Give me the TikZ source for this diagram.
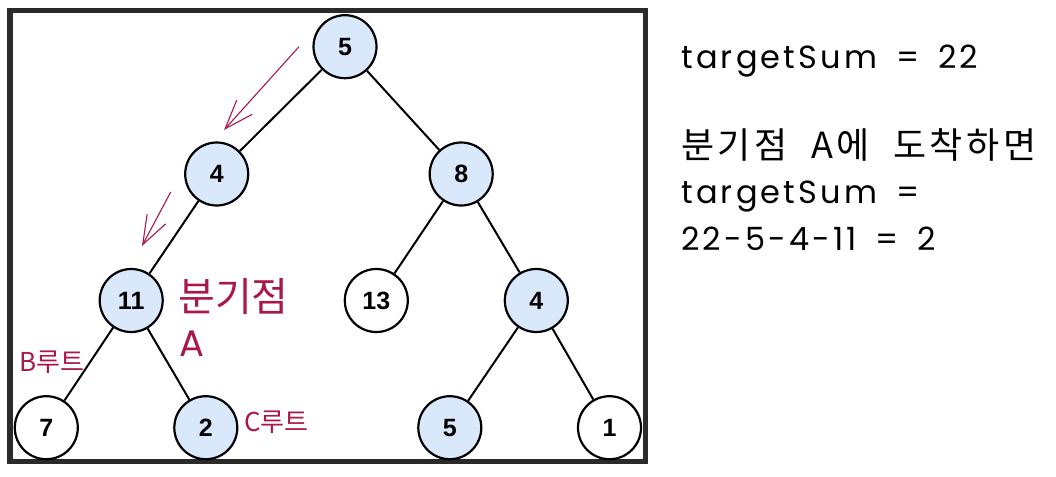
\documentclass[tikz,border=0pt]{standalone}
\usepackage{fontspec}
\setmainfont{Liberation Sans}
\newfontfamily\krfont{Noto Sans CJK KR}
\newfontfamily\krwidefont[LetterSpace=10,WordSpace=2]{Noto Sans CJK KR}
\newfontfamily\handfont[LetterSpace=10,WordSpace=1.6]{Poppins}
\usetikzlibrary{arrows.meta}
\definecolor{nodefill}{HTML}{DAE8FC}
\definecolor{notecolor}{RGB}{168,24,74}
\definecolor{framecolor}{HTML}{2A2A2A}

\begin{document}
\begin{tikzpicture}[x=1pt,y=-1pt,
  treenode/.style={circle,draw=black,line width=2.2pt,minimum size=63pt,inner sep=0pt,font=\fontsize{25}{25}\selectfont\bfseries},
  visited/.style={treenode,fill=nodefill},
  plain/.style={treenode,fill=white},
  treeedge/.style={draw=black,line width=2pt},
  walk/.style={draw=notecolor,line width=1.1pt,-{Straight Barb[length=29pt,width=21pt]}},
  notelabel/.style={text=notecolor,inner sep=0pt,anchor=base west},
  sidetext/.style={text=black,inner sep=0pt,anchor=base west}]
\useasboundingbox (0,0) rectangle (1056,476);
\path[draw=framecolor,line width=5.3pt] (10,10.4) rectangle (645.8,461.8);
\node[visited] (tree-0-0) at (345,46.7) {5};
\node[visited] (tree-1-0) at (216.7,174) {4};
\node[visited] (tree-1-1) at (461.2,174) {8};
\node[visited] (tree-2-0) at (131.2,300.5) {11};
\node[plain] (tree-2-1) at (376.3,300.5) {13};
\node[visited] (tree-2-2) at (536.3,300.5) {4};
\node[plain] (tree-3-0) at (46.3,427.7) {7};
\node[visited] (tree-3-1) at (205.8,427.7) {2};
\node[visited] (tree-3-2) at (449.8,427.7) {5};
\node[plain] (tree-3-3) at (609.5,427.7) {1};
\path[treeedge] (tree-0-0) -- (tree-1-0);
\path[treeedge] (tree-0-0) -- (tree-1-1);
\path[treeedge] (tree-1-0) -- (tree-2-0);
\path[treeedge] (tree-1-1) -- (tree-2-1);
\path[treeedge] (tree-1-1) -- (tree-2-2);
\path[treeedge] (tree-2-0) -- (tree-3-0);
\path[treeedge] (tree-2-0) -- (tree-3-1);
\path[treeedge] (tree-2-2) -- (tree-3-2);
\path[treeedge] (tree-2-2) -- (tree-3-3);
\coordinate (walk-0-start) at (299,46.7);
\coordinate (walk-0-end) at (224,130);
\coordinate (walk-1-start) at (170.7,192);
\coordinate (walk-1-end) at (142,246);
\path[walk] (walk-0-start) -- (walk-0-end);
\path[walk] (walk-1-start) -- (walk-1-end);
\node[notelabel,font=\krfont\fontsize{40}{40}\selectfont] (branch-label) at (178,311) {분기점};
\node[notelabel,font=\handfont\fontsize{37}{37}\selectfont] (branch-mark) at (179,356) {A};
\node[notelabel,font=\krfont\fontsize{26}{26}\selectfont] (route-b) at (19,371) {B루트};
\node[notelabel,font=\krfont\fontsize{26}{26}\selectfont] (route-c) at (244,431) {C루트};
\node[sidetext,font=\handfont\fontsize{32}{32}\selectfont] (sum-0) at (681,69) {targetSum = 22};
\node[sidetext,font=\krwidefont\fontsize{36}{36}\selectfont] (sum-1) at (681,158) {분기점 A에 도착하면};
\node[sidetext,font=\handfont\fontsize{32}{32}\selectfont] (sum-2) at (681,203) {targetSum =};
\node[sidetext,font=\handfont\fontsize{32}{32}\selectfont] (sum-3) at (681,250) {22-5-4-11 = 2};
\end{tikzpicture}
\end{document}
